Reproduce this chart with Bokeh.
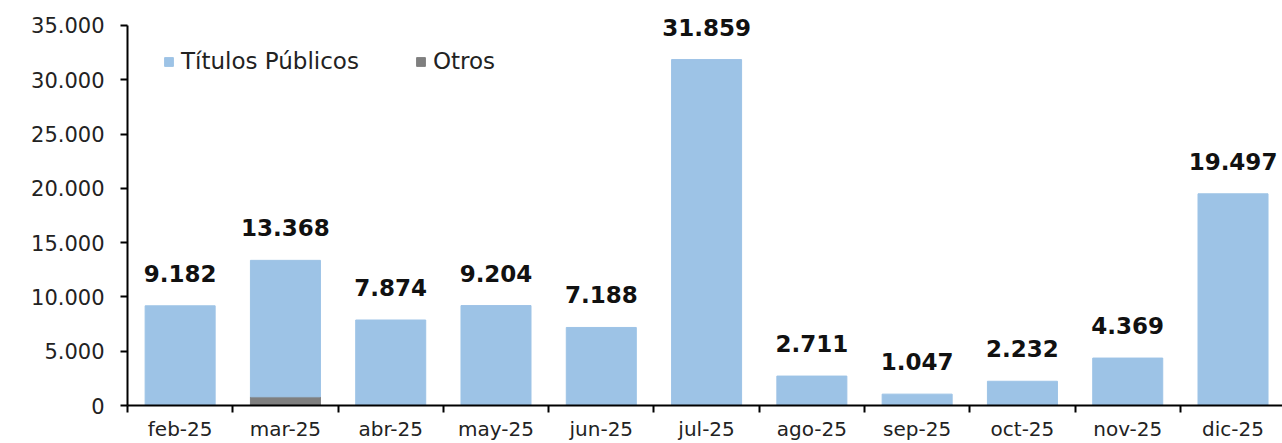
from bokeh.plotting import figure
from bokeh.models import Range1d, FixedTicker, ColumnDataSource, Legend, LegendItem, LabelSet
from bokeh.core.properties import value
from bokeh.embed import file_html
from bokeh.resources import INLINE

months = ["feb-25", "mar-25", "abr-25", "may-25", "jun-25", "jul-25",
          "ago-25", "sep-25", "oct-25", "nov-25", "dic-25"]
otros = [0, 800, 0, 0, 0, 0, 0, 0, 0, 0, 0]
totales = [9182, 13368, 7874, 9204, 7188, 31859, 2711, 1047, 2232, 4369, 19497]
titulos = [t - o for t, o in zip(totales, otros)]
total_labels = ["9.182", "13.368", "7.874", "9.204", "7.188", "31.859",
                "2.711", "1.047", "2.232", "4.369", "19.497"]
y_ticks = [0, 5000, 10000, 15000, 20000, 25000, 30000, 35000]
y_tick_labels = ["0", "5.000", "10.000", "15.000", "20.000", "25.000", "30.000", "35.000"]

BLUE = "#9DC3E6"
GRAY = "#7F7F7F"
FONT = "DejaVu Sans"

n = len(months)
xc = [i + 0.5 for i in range(n)]
src = ColumnDataSource(dict(x=xc, otros=otros, titulos=titulos,
                            top_otros=otros,
                            top_total=[o + t for o, t in zip(otros, titulos)],
                            lab=total_labels))

p = figure(width=1282, height=443, output_backend="svg", toolbar_location=None,
           x_range=Range1d(0, n - 0.03), y_range=Range1d(0, 37300),
           min_border_left=127, min_border_right=0, min_border_top=0, min_border_bottom=38)
p.outline_line_color = None
p.grid.visible = False
p.background_fill_color = "white"

r_otros = p.vbar(x="x", bottom=0, top="top_otros", width=0.665, color=GRAY, source=src)
r_tit = p.vbar(x="x", bottom="top_otros", top="top_total", width=0.665, color=BLUE, source=src)

labels = LabelSet(x="x", y="top_total", text="lab", source=src, text_align="center",
                  text_baseline="alphabetic", y_offset=24, text_font=value(FONT),
                  text_font_style="bold", text_font_size="23px", text_color="#111111")
p.add_layout(labels)

# axes
xa = p.xaxis[0]
xa.ticker = FixedTicker(ticks=xc, minor_ticks=list(range(n + 1)))
xa.major_label_overrides = {x: m for x, m in zip(xc, months)}
xa.major_tick_out = 0
xa.major_tick_in = 0
xa.minor_tick_out = 7
xa.minor_tick_in = 0
xa.minor_tick_line_color = "black"
xa.minor_tick_line_width = 2
xa.axis_line_color = "black"
xa.axis_line_width = 2
xa.major_label_text_font = FONT
xa.major_label_text_font_size = "20px"
xa.major_label_text_color = "#222222"
xa.major_label_standoff = 4

ya = p.yaxis[0]
ya.ticker = FixedTicker(ticks=y_ticks)
ya.major_label_overrides = {t: l for t, l in zip(y_ticks, y_tick_labels)}
ya.bounds = (0, 35000)
ya.major_tick_out = 7
ya.major_tick_in = 0
ya.minor_tick_out = 0
ya.minor_tick_in = 0
ya.major_tick_line_width = 2
ya.axis_line_width = 2
ya.major_label_text_font = FONT
ya.major_label_text_font_size = "21px"
ya.major_label_text_color = "#222222"
ya.major_label_standoff = 16

legend = Legend(items=[LegendItem(label="Títulos Públicos", renderers=[r_tit]),
                       LegendItem(label="Otros", renderers=[r_otros])],
                orientation="horizontal", location=(36, 331),
                glyph_width=11, glyph_height=11, label_standoff=7, spacing=56,
                padding=5, margin=0, border_line_color=None,
                background_fill_alpha=0,
                label_text_font=FONT, label_text_font_size="23px",
                label_text_color="#222222")
p.add_layout(legend)

open("out.html", "w").write(file_html(p, INLINE))
